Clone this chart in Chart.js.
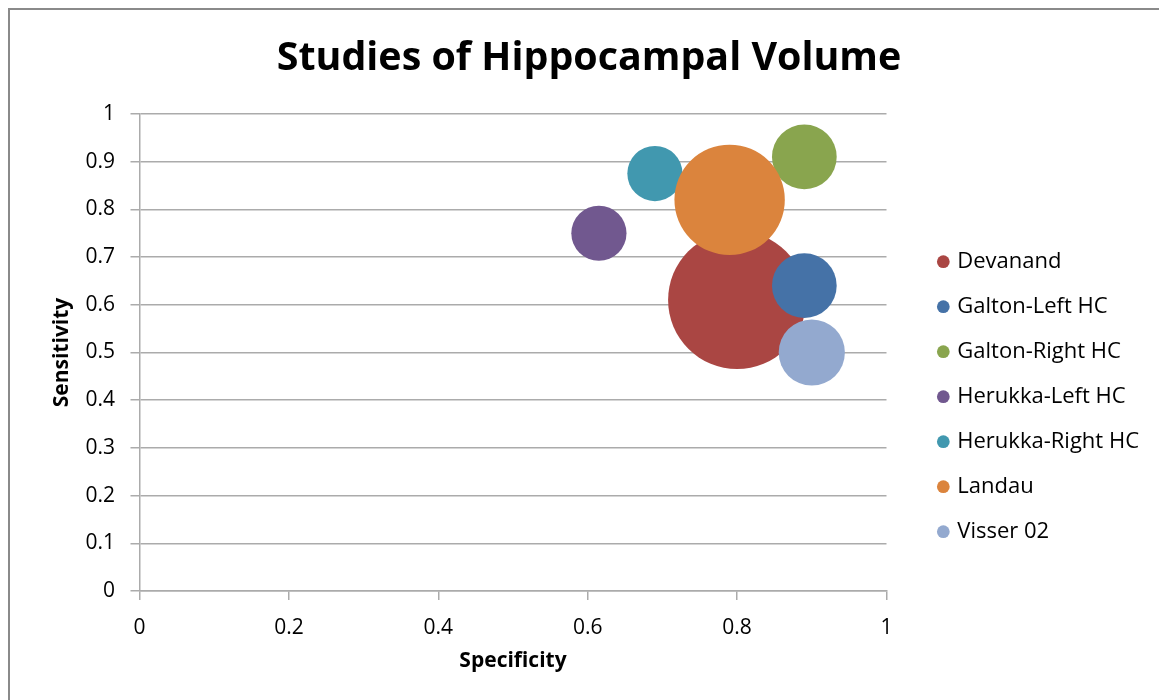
<!DOCTYPE html>
<html>
<head>
<meta charset="utf-8">
<script src="https://cdn.jsdelivr.net/npm/chart.js@4/dist/chart.umd.min.js"></script>
<style>
  html, body { margin: 0; padding: 0; background: #fff; overflow: hidden; }
  #frame {
    position: absolute; left: 8px; top: 8px;
    width: 1151px; height: 692px;
    border-top: 2px solid #8a8a8a; border-left: 2px solid #8a8a8a;
  }
  #chart { display: block; }
</style>
</head>
<body>
<div id="frame"><canvas id="chart" width="1149" height="690"></canvas></div>
<script>
// one bubble per study
const studies = ["Devanand", "Galton-Left HC", "Galton-Right HC", "Herukka-Left HC", "Herukka-Right HC", "Landau", "Visser 02"];
const specificity = [0.80, 0.89, 0.89, 0.615, 0.69, 0.79, 0.90];
const sensitivity = [0.61, 0.64, 0.91, 0.75, 0.875, 0.82, 0.50];
const bubbleSize = [100, 22, 22, 16, 16, 64, 23];
const colors = ["#AA4643", "#4572A7", "#89A54E", "#71588F", "#4198AF", "#DB843D", "#93A9CF"];

const xTicks = [0, 0.2, 0.4, 0.6, 0.8, 1];
const yTicks = [0, 0.1, 0.2, 0.3, 0.4, 0.5, 0.6, 0.7, 0.8, 0.9, 1];

// bubble area proportional to size, largest bubble gets this radius
const maxRadius = 69;
const maxSize = Math.max(...bubbleSize);

const fontFamily = '"Open Sans", sans-serif';
Chart.defaults.font.family = fontFamily;
Chart.defaults.color = "#000";

const gridColor = "#ababab";
const fmt = v => String(+v.toFixed(1));

// legend geometry
const legendFont = 22;
const legendPad = 23;
const legendBox = 6;
const legendLeft = 907.3;
const measure = document.createElement("canvas").getContext("2d");
measure.font = legendFont + "px " + fontFamily;
const longest = Math.max(...studies.map(s => measure.measureText(s).width));
const legendWidth = legendPad + legendBox + legendFont / 2 + longest + 10;
const padRight = 1149 - legendLeft - legendWidth;
const padLeft = padRight + 9;

const datasets = studies.map((name, i) => ({
  label: name,
  data: [{ x: specificity[i], y: sensitivity[i], r: maxRadius * Math.sqrt(bubbleSize[i] / maxSize) }],
  backgroundColor: colors[i],
  borderWidth: 0,
  // later studies drawn on top
  order: studies.length - i
}));

new Chart(document.getElementById("chart"), {
  type: "bubble",
  data: { datasets },
  options: {
    responsive: false,
    animation: false,
    devicePixelRatio: 1,
    layout: { padding: { left: padLeft, right: padRight } },
    plugins: {
      tooltip: { enabled: false },
      title: {
        display: true,
        text: "Studies of Hippocampal Volume",
        font: { size: 39.4, weight: "bold" },
        padding: { top: 24.9, bottom: 31.8 }
      },
      legend: {
        position: "right",
        fullSize: false,
        align: "center",
        maxWidth: 400,
        // empty title used to push the items down
        title: { display: true, text: "", padding: { top: 74, bottom: 0 } },
        labels: {
          usePointStyle: true,
          boxWidth: legendBox,
          boxHeight: 9,
          padding: legendPad,
          font: { size: legendFont },
          sort: (a, b) => a.datasetIndex - b.datasetIndex
        }
      }
    },
    scales: {
      x: {
        type: "linear",
        min: 0,
        max: 1,
        afterBuildTicks: s => { s.ticks = xTicks.map(v => ({ value: v })); },
        afterFit: s => { s.height = 109; },
        ticks: { padding: 15.4, font: { size: 21 }, callback: fmt },
        grid: { drawOnChartArea: false, drawTicks: true, tickLength: 9, color: gridColor, lineWidth: 1.5 },
        border: { color: gridColor, width: 1.5 },
        title: {
          display: true,
          text: "Specificity",
          font: { size: 21, weight: "bold" },
          padding: { top: 0, bottom: 26.4 }
        }
      },
      y: {
        type: "linear",
        min: 0,
        max: 1,
        afterBuildTicks: s => { s.ticks = yTicks.map(v => ({ value: v })); },
        afterFit: s => { s.width = 129.5 - padLeft; },
        ticks: { padding: 15.5, font: { size: 21 }, callback: fmt },
        grid: { color: gridColor, tickLength: 9, lineWidth: 1.5 },
        border: { color: gridColor, width: 1.5 },
        title: {
          display: true,
          text: "Sensitivity",
          font: { size: 21, weight: "bold" },
          padding: { top: 52 - 12.6 - padLeft, bottom: 0 }
        }
      },
      // blank strip between plot and legend
      gap: {
        type: "linear",
        position: "right",
        grid: { display: false },
        border: { display: false },
        ticks: { display: false },
        afterFit: s => { s.width = legendLeft - 876.5; }
      }
    }
  }
});
</script>
</body>
</html>
